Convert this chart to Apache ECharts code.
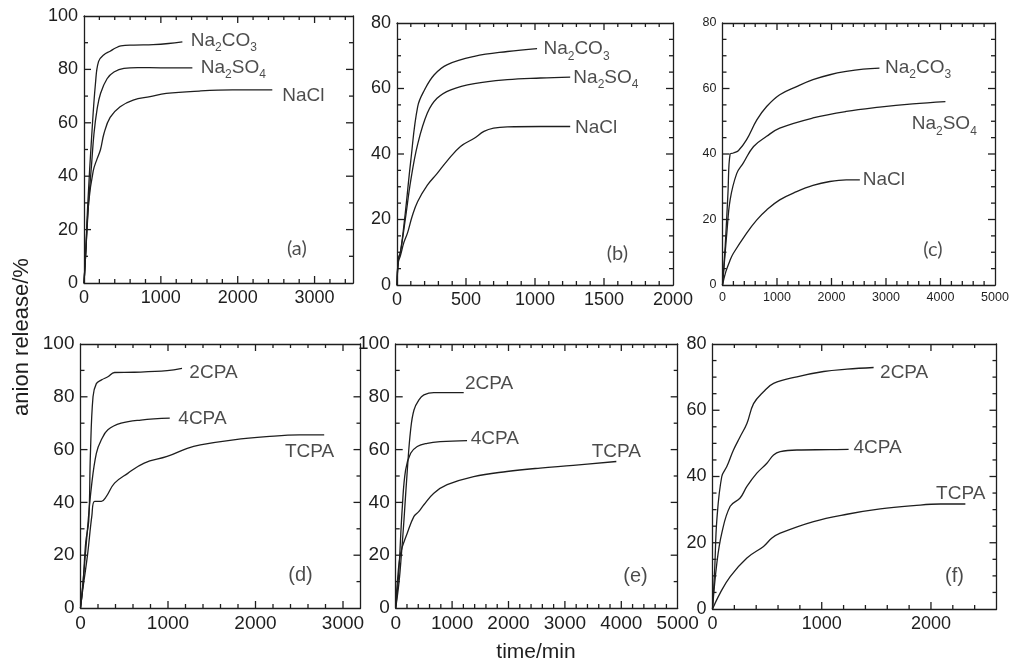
<!DOCTYPE html>
<html>
<head>
<meta charset="utf-8">
<title>anion release</title>
<script src="https://cdn.jsdelivr.net/npm/echarts@6/dist/echarts.min.js"></script>
<style>
  html, body { margin: 0; padding: 0; background: #fff; }
  #figure { position: relative; width: 1014px; height: 664px; background: #fff; }
  #figure > div { position: absolute; left: 0; top: 0; width: 1014px; height: 664px; }
</style>
</head>
<body>
<div id="figure"></div>
<script>
// ---- release curves, [time/min, anion release/%] ----
// (a)
const aNa2CO3 = [[0,0],[20,10],[50,30],[100,55],[150,75],[190,83],[260,85.5],[340,86.8],[410,88],[480,88.8],[650,89.1],[900,89.3],[1100,89.7],[1280,90.3]];
const aNa2SO4 = [[0,0],[20,10],[60,30],[100,45],[130,56],[170,65],[215,71],[300,76.5],[390,79],[520,80.4],[700,80.7],[1000,80.6],[1410,80.6]];
const aNaCl   = [[0,0],[20,10],[60,30],[120,42],[170,46.5],[215,50],[260,56],[340,62],[470,66],[640,68.5],[860,69.8],[1070,71],[1500,71.9],[1930,72.3],[2450,72.3]];
// (b)
const bNa2CO3 = [[0,0],[10,8],[25,10],[60,22],[100,38],[150,54.5],[200,59.6],[270,64.2],[365,67.3],[560,69.8],[800,71.3],[1015,72.2]];
const bNa2SO4 = [[0,0],[10,8],[25,10],[60,20],[100,32],[150,43],[220,52.5],[290,57],[390,59.6],[560,61.5],[800,62.7],[1040,63.2],[1255,63.5]];
const bNaCl   = [[0,0],[10,7],[25,9],[50,13],[77,16],[110,21],[150,25.5],[220,30.5],[290,34],[365,38],[460,42.3],[560,44.8],[630,46.9],[700,47.9],[800,48.3],[1040,48.4],[1255,48.4]];
// (c)
const cNa2CO3 = [[0,0],[50,12],[100,28],[140,40],[200,40.3],[290,41],[440,44.3],[630,50.4],[810,54.5],[1050,58.1],[1360,60.6],[1660,62.7],[1970,64.2],[2270,65.2],[2580,65.9],[2880,66.2]];
const cNa2SO4 = [[0,0],[40,8],[80,16],[140,26],[260,34],[380,37.2],[570,42.3],[810,45.4],[1050,47.9],[1660,51],[2270,53],[2880,54.3],[3490,55.3],[4090,56]];
const cNaCl   = [[0,0],[60,4],[140,7.6],[200,9.7],[440,15.8],[630,19.9],[810,22.9],[1050,26],[1360,28.5],[1660,30.4],[1970,31.6],[2270,32.1],[2520,32.1]];
// (d)
const d2CPA = [[0,0],[30,10],[60,25],[94,33],[113,58],[143,80],[181,85],[240,86.4],[313,87.6],[389,89.2],[615,89.3],[990,89.9],[1160,90.8]];
const d4CPA = [[0,0],[30,10],[80,30],[125,46],[181,58.6],[238,63.7],[313,67.5],[464,70],[690,71.2],[1020,71.9]];
const dTCPA = [[0,0],[30,8],[80,20],[130,35],[162,40.4],[238,40.4],[294,42.2],[389,47.3],[540,51],[728,54.9],[990,57.4],[1220,60.5],[1370,61.8],[1750,63.7],[2125,64.9],[2500,65.6],[2785,65.6]];
// (e)
const e2CPA = [[0,0],[60,10],[100,20],[147,33.4],[206,52.3],[265,67.5],[324,75],[412,78.8],[500,80.7],[676,81.6],[1206,81.6]];
const e4CPA = [[0,0],[50,12],[118,38.5],[176,52.3],[265,58.6],[382,61.2],[559,62.4],[794,63],[1265,63.4]];
const eTCPA = [[0,0],[30,10],[88,20.8],[206,28.4],[324,34.7],[412,36.6],[500,39.1],[676,43.5],[912,46.7],[1382,49.8],[1971,51.7],[2559,53],[3147,54],[3912,55.5]];
// (f)
const f2CPA = [[0,0],[20,12],[40,27],[85,40],[131,43],[192,48],[253,52],[315,56],[376,62],[467,65.6],[559,68.1],[773,70.1],[1017,71.7],[1231,72.4],[1475,72.9]];
const f4CPA = [[0,0],[40,13.9],[85,22.9],[162,31],[253,33.5],[315,37],[406,41],[498,44],[559,46.5],[620,47.5],[773,48],[1078,48.1],[1246,48.2]];
const fTCPA = [[0,0],[70,4.8],[162,9.8],[315,15.4],[467,18.9],[544,21.4],[620,22.9],[925,26.4],[1231,28.6],[1536,30.2],[1841,31.2],[2086,31.7],[2315,31.7]];

// ---- axis scales ----
const xMaxes   = [3500, 2000, 5000, 3200, 5000, 2600];
const xMajors  = [1000, 500, 1000, 1000, 1000, 1000];
const xMinors  = [200, 100, 200, 200, 200, 200];
const yMaxes   = [100, 80, 80, 100, 100, 80];
const yMajors  = [20, 20, 20, 20, 20, 20];
const yMinors  = [10, 5, 5, 10, 10, 5];
const panelTags = ['(a)', '(b)', '(c)', '(d)', '(e)', '(f)'];
const yTitle = 'anion release/%';
const xTitle = 'time/min';

const INK = '#1e1e1e';
const SANS = 'Liberation Sans, Arial, Helvetica, sans-serif';
const CALI = 'Lato, Liberation Sans, sans-serif';
const MAJOR_LEN = 7, MINOR_LEN = 4;

// panel layout and annotation anchors (anchor = left edge / vertical middle of the text, in data units)
const panels = [
  { box: {left: 84, top: 16, width: 269, height: 267}, tickFont: 18, tagFont: CALI,
    series: [['Na2CO3', aNa2CO3], ['Na2SO4', aNa2SO4], ['NaCl', aNaCl]],
    notes: [['Na2CO3', 1390, 90.6], ['Na2SO4', 1520, 80.6], ['NaCl', 2580, 70], ['tag', 2640, 13]] },
  { box: {left: 397, top: 23, width: 276, height: 262}, tickFont: 18, tagFont: CALI,
    series: [['Na2CO3', bNa2CO3], ['Na2SO4', bNa2SO4], ['NaCl', bNaCl]],
    notes: [['Na2CO3', 1061, 72], ['Na2SO4', 1278, 63.3], ['NaCl', 1290, 47.9], ['tag', 1520, 9.7]] },
  { box: {left: 722.5, top: 23, width: 272.5, height: 262}, tickFont: 12.5, tagFont: CALI,
    series: [['Na2CO3', cNa2CO3], ['Na2SO4', cNa2SO4], ['NaCl', cNaCl]],
    notes: [['Na2CO3', 2982, 66.4], ['Na2SO4', 3472, 49.1], ['NaCl', 2572, 32], ['tag', 3685, 10.7]] },
  { box: {left: 80.5, top: 344, width: 280, height: 264}, tickFont: 19, tagFont: SANS,
    series: [['2CPA', d2CPA], ['4CPA', d4CPA], ['TCPA', dTCPA]],
    notes: [['2CPA', 1244, 89.1], ['4CPA', 1118, 71.6], ['TCPA', 2337, 59.2], ['tag', 2375, 12.5]] },
  { box: {left: 395.7, top: 344, width: 282, height: 264}, tickFont: 19, tagFont: SANS,
    series: [['2CPA', e2CPA], ['4CPA', e4CPA], ['TCPA', eTCPA]],
    notes: [['2CPA', 1229, 85.1], ['4CPA', 1330, 64], ['TCPA', 3475, 59.2], ['tag', 4036, 11.9]] },
  { box: {left: 712.5, top: 344, width: 284, height: 265}, tickFont: 18, tagFont: SANS,
    series: [['2CPA', f2CPA], ['4CPA', f4CPA], ['TCPA', fTCPA]],
    notes: [['2CPA', 1534, 71.3], ['4CPA', 1290, 48.8], ['TCPA', 2047, 34.8], ['tag', 2129, 9.8]] }
];

// chemical formula -> rich text; digits that follow an element symbol are subscripts
function formula(name) {
  return name.replace(/(\d+)|([^\d]+)/g, (m, digits, text, offset) =>
    digits && offset > 0 ? '{s|' + digits + '}' : '{n|' + m + '}');
}

function frameStyle() { return { color: INK, width: 1.3 }; }

// tick list for one panel: [value, 1 = x tick / 0 = y tick, 1 = major / 0 = minor]
function tickList(gi) {
  const out = [];
  const eps = 1e-6;
  for (let v = xMinors[gi]; v < xMaxes[gi] - eps; v += xMinors[gi]) {
    out.push([v, 1, Math.abs(v / xMajors[gi] - Math.round(v / xMajors[gi])) < eps ? 1 : 0]);
  }
  for (let v = yMinors[gi]; v < yMaxes[gi] - eps; v += yMinors[gi]) {
    out.push([v, 0, Math.abs(v / yMajors[gi] - Math.round(v / yMajors[gi])) < eps ? 1 : 0]);
  }
  return out;
}

// one full-size transparent chart layer per panel, stacked in #figure
function panelOption(p, gi) {
  const majStep = xMajors[gi];
  const xMax = xMaxes[gi], yMax = yMaxes[gi];
  const xAxes = [
    { type: 'value', gridIndex: 0, position: 'bottom', min: 0, max: xMax, interval: majStep,
      axisLine: { show: true, onZero: false, lineStyle: frameStyle() },
      axisTick: { show: false },
      axisLabel: { show: true, margin: 6, color: INK, fontFamily: SANS, fontSize: p.tickFont,
        formatter: v => (v % majStep === 0 ? String(v) : '') },
      splitLine: { show: false } },
    { type: 'value', gridIndex: 0, position: 'top', min: 0, max: xMax, interval: majStep,
      axisLine: { show: true, onZero: false, lineStyle: frameStyle() },
      axisTick: { show: false }, axisLabel: { show: false }, splitLine: { show: false } }
  ];
  const yAxes = [
    { type: 'value', gridIndex: 0, position: 'left', min: 0, max: yMax, interval: yMajors[gi],
      axisLine: { show: true, onZero: false, lineStyle: frameStyle() },
      axisTick: { show: false },
      axisLabel: { show: true, margin: 6, color: INK, fontFamily: SANS, fontSize: p.tickFont,
        formatter: v => String(v) },
      splitLine: { show: false } },
    { type: 'value', gridIndex: 0, position: 'right', min: 0, max: yMax, interval: yMajors[gi],
      axisLine: { show: true, onZero: false, lineStyle: frameStyle() },
      axisTick: { show: false }, axisLabel: { show: false }, splitLine: { show: false } }
  ];

  const series = [];
  p.series.forEach(([name, data]) => {
    series.push({
      type: 'line', name: name, xAxisIndex: 0, yAxisIndex: 0, data: data,
      showSymbol: false, smooth: 0.4,
      lineStyle: { color: INK, width: 1.3 }, silent: true
    });
  });

  // inward ticks on all four sides, placed through the axis scales
  series.push({
    type: 'custom', xAxisIndex: 0, yAxisIndex: 0, silent: true, clip: false,
    data: tickList(gi),
    renderItem: (params, api) => {
      const v = api.value(0), isX = api.value(1) === 1;
      const len = api.value(2) === 1 ? MAJOR_LEN : MINOR_LEN;
      const style = { stroke: INK, lineWidth: 1.3 };
      if (isX) {
        const a = api.coord([v, 0]), b = api.coord([v, yMax]);
        return { type: 'group', children: [
          { type: 'line', shape: { x1: a[0], y1: a[1], x2: a[0], y2: a[1] - len }, style: style },
          { type: 'line', shape: { x1: b[0], y1: b[1], x2: b[0], y2: b[1] + len }, style: style }
        ] };
      }
      const l = api.coord([0, v]), r = api.coord([xMax, v]);
      return { type: 'group', children: [
        { type: 'line', shape: { x1: l[0], y1: l[1], x2: l[0] + len, y2: l[1] }, style: style },
        { type: 'line', shape: { x1: r[0], y1: r[1], x2: r[0] - len, y2: r[1] }, style: style }
      ] };
    }
  });

  // curve names and the panel tag
  series.push({
    type: 'scatter', xAxisIndex: 0, yAxisIndex: 0, symbolSize: 0, silent: true,
    data: p.notes.map(([name, t, v]) => ({ name: name === 'tag' ? panelTags[gi] : name, value: [t, v], tag: name === 'tag' })),
    label: {
      show: true, position: 'right', distance: 0,
      formatter: prm => (prm.data.tag ? '{t|' + prm.name + '}' : formula(prm.name)),
      rich: {
        n: { fontSize: 19, fontFamily: SANS, color: INK, lineHeight: 26, verticalAlign: 'middle' },
        s: { fontSize: 12, fontFamily: SANS, color: INK, lineHeight: 12, verticalAlign: 'bottom' },
        t: { fontSize: 20, fontFamily: p.tagFont, color: INK, lineHeight: 24 }
      }
    }
  });

  return {
    backgroundColor: 'transparent',
    animation: false,
    grid: [Object.assign({ containLabel: false, outerBoundsMode: 'none' }, p.box)],
    xAxis: xAxes,
    yAxis: yAxes,
    series: series
  };
}

const figure = document.getElementById('figure');
panels.forEach((p, gi) => {
  const layer = document.createElement('div');
  figure.appendChild(layer);
  const chart = echarts.init(layer, null, { renderer: 'canvas' });
  const option = panelOption(p, gi);
  if (gi === 0) {
    // shared axis titles
    option.graphic = [
      { type: 'text', x: 22, y: 337, rotation: Math.PI / 2,
        style: { text: yTitle, fontSize: 22, fontFamily: SANS, fill: INK, align: 'center', verticalAlign: 'middle' } },
      { type: 'text', x: 536, y: 652,
        style: { text: xTitle, fontSize: 21, fontFamily: SANS, fill: INK, align: 'center', verticalAlign: 'middle' } }
    ];
  }
  chart.setOption(option);
});
</script>
</body>
</html>
